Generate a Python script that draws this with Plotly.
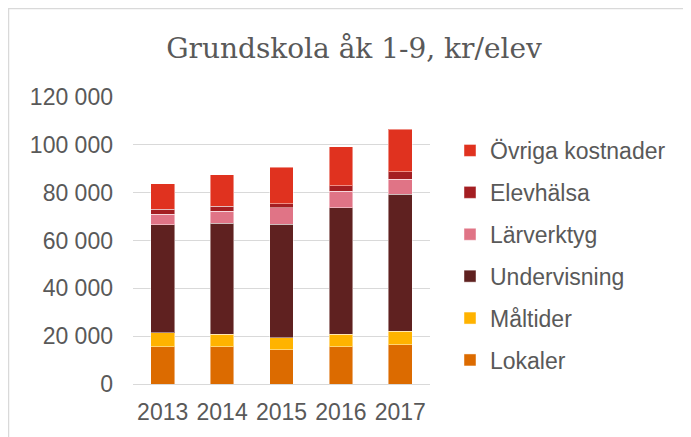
import plotly.graph_objects as go

years = ["2013", "2014", "2015", "2016", "2017"]
lokaler = [15500, 15500, 14400, 15500, 16400]
maltider = [5900, 5400, 5000, 5400, 5700]
undervisning = [45100, 46400, 47500, 52900, 57200]
larverktyg = [4400, 5000, 6700, 6700, 6300]
elevhalsa = [2100, 2100, 1700, 2300, 3100]
ovriga = [10800, 13000, 15300, 16400, 17900]

series = [
    ("Lokaler", lokaler, "#DC6B00"),
    ("Måltider", maltider, "#FFB300"),
    ("Undervisning", undervisning, "#5F2120"),
    ("Lärverktyg", larverktyg, "#E07486"),
    ("Elevhälsa", elevhalsa, "#A41E22"),
    ("Övriga kostnader", ovriga, "#E0321F"),
]

# page body has an 8px margin; figure coords are shifted by -8 px
W, H = 683, 429
ml, mt = 125, 89
plot_r, plot_b = 422, 376
mr, mb = W - plot_r, H - plot_b
pw, ph = W - ml - mr, H - mt - mb

fig = go.Figure()
n = len(series)
for i, (name, vals, col) in enumerate(series):
    fig.add_trace(go.Bar(
        x=years, y=vals, name=name, legendgroup=name, legendrank=n - i,
        marker=dict(color=col, line=dict(color="rgba(255,255,255,0.45)", width=1)),
    ))

def px_x(p):
    return (p - ml) / pw

def px_y(p):
    return 1 - (p - mt) / ph

fig.update_layout(
    width=W, height=H,
    barmode="stack", bargap=0.6,
    paper_bgcolor="white", plot_bgcolor="white",
    margin=dict(l=ml, r=mr, t=mt, b=mb, autoexpand=False),
    font=dict(family="Liberation Sans, Arial, sans-serif", color="#595959", size=23),
    title=dict(text="Grundskola åk 1-9, kr/elev", x=346 / W, xanchor="center",
               y=1 - 40 / H, yanchor="middle",
               font=dict(family="DejaVu Serif, Liberation Serif, serif", size=28, color="#595959")),
    xaxis=dict(showgrid=False, showline=True, linecolor="#d9d9d9", linewidth=1,
               ticks="", ticklabelstandoff=7, tickfont=dict(size=23, color="#595959")),
    yaxis=dict(range=[0, 120000], tickvals=[0, 20000, 40000, 60000, 80000, 100000, 120000],
               ticktext=["0", "20 000", "40 000", "60 000", "80 000", "100 000", "120 000"],
               showgrid=True, gridcolor="#d9d9d9", gridwidth=1, zeroline=False,
               ticks="", ticklabelstandoff=19, tickfont=dict(size=23, color="#595959")),
    legend=dict(traceorder="grouped", tracegroupgap=9,
                x=px_x(442), xanchor="left", y=px_y(121), yanchor="top",
                font=dict(size=23, color="#595959"), bgcolor="rgba(0,0,0,0)"),
    shapes=[dict(type="rect", xref="paper", yref="paper",
                 x0=px_x(0.5), x1=px_x(720), y0=px_y(460), y1=px_y(0.5),
                 line=dict(color="#d9d9d9", width=1.5), fillcolor="rgba(0,0,0,0)", layer="below")],
)

fig.write_html("out.html")
